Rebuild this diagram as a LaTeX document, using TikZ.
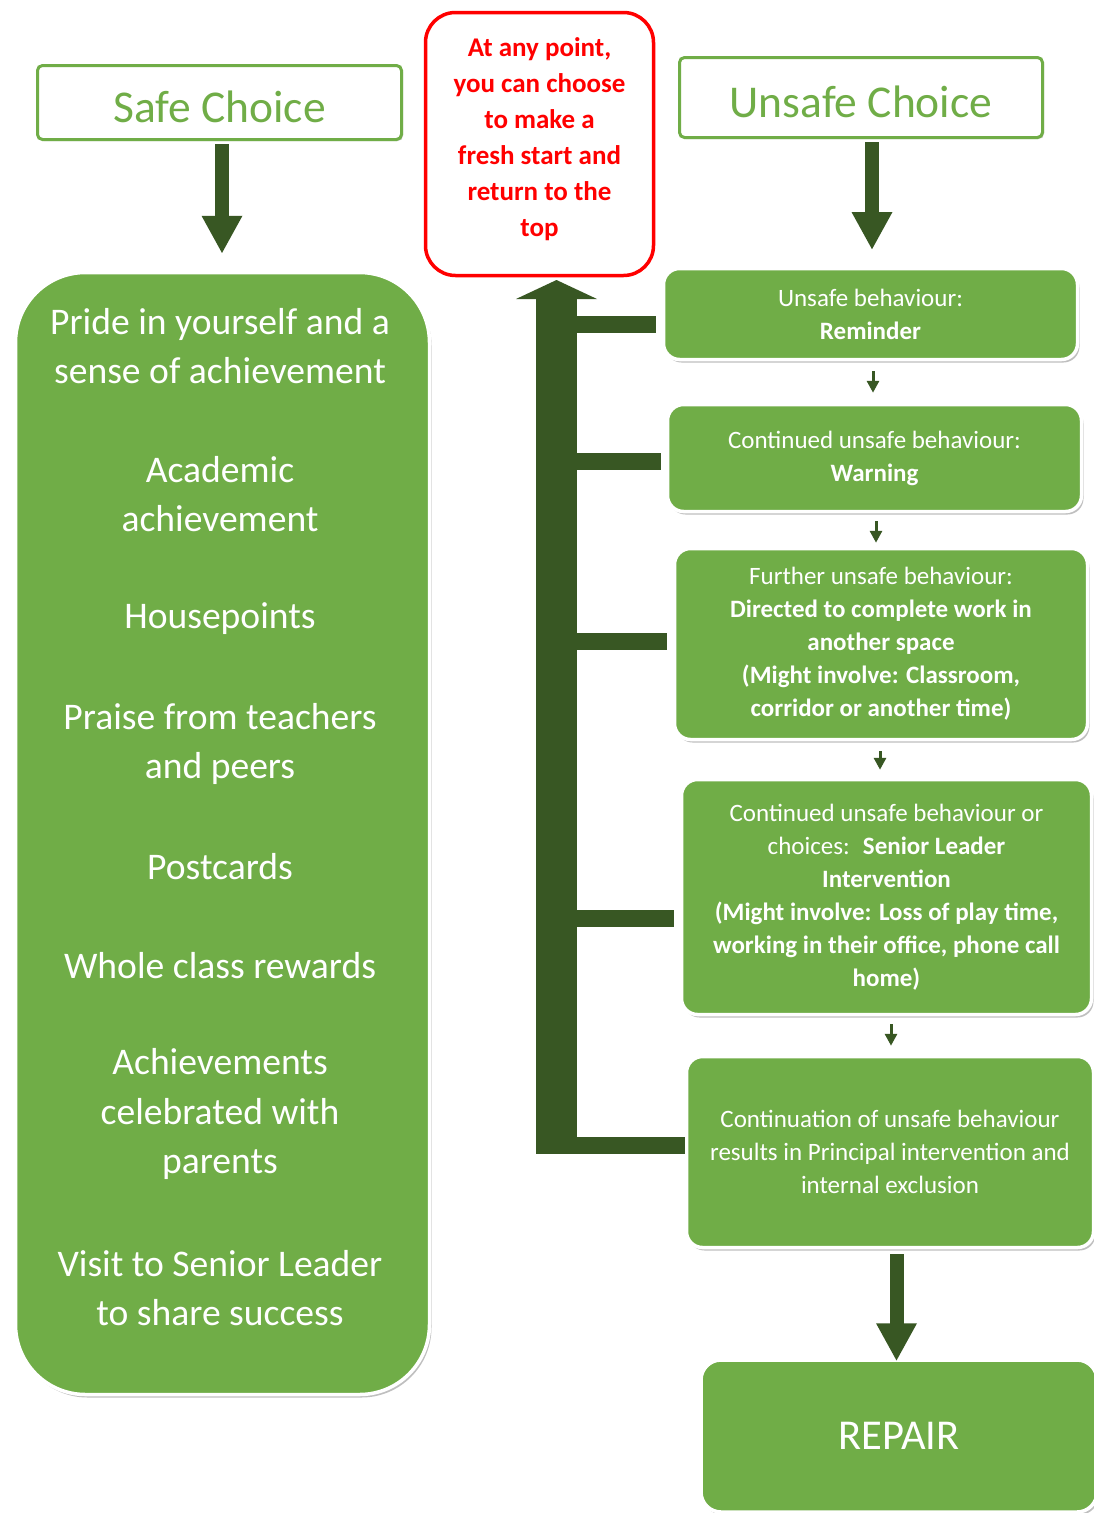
\documentclass[tikz,border=0pt]{standalone}
\usepackage{fontspec}
\setmainfont{Carlito}
\usetikzlibrary{arrows.meta,shadows}
\definecolor{lgreen}{RGB}{112,173,71}
\definecolor{dgreen}{RGB}{56,87,35}
\definecolor{redline}{RGB}{255,0,0}
\tikzset{
  choice/.style={draw=lgreen, line width=3pt, fill=white, rounded corners=5pt, text=lgreen,
    font=\fontsize{45.5}{54}\selectfont, inner sep=0pt,
    drop shadow={shadow xshift=1.5pt, shadow yshift=-1.5pt, fill=black!35, opacity=.5}},
  gbox/.style={fill=lgreen, draw=white, line width=3.5pt, text=white, align=center, inner sep=0pt,
    drop shadow={shadow xshift=2pt, shadow yshift=-3pt, fill=black!45, opacity=.55}},
  ubox/.style={gbox, rounded corners=16pt, font=\fontsize{25}{33}\selectfont},
  saferow/.style={text=white, align=center, inner sep=0pt, font=\fontsize{37.6}{49.6}\selectfont},
  redbox/.style={draw=redline, line width=3.5pt, fill=white, rounded corners=30pt, inner sep=0pt},
  redtext/.style={text=redline, align=center, inner sep=0pt, font=\bfseries\fontsize{27}{36}\selectfont},
  bigarrow/.style={draw=dgreen, line width=14pt, -{Triangle[width=38pt,length=38pt]}, shorten >=0pt},
  smallarrow/.style={draw=dgreen, line width=3pt, -{Triangle[width=12pt,length=12pt]}},
  branch/.style={draw=dgreen, line width=17pt, line cap=butt},
  spine/.style={draw=dgreen, line width=41pt, line cap=butt},
}
\begin{document}
\begin{tikzpicture}[x=1pt,y=-1pt]
\useasboundingbox[fill=white] (0,0) rectangle (1094,1513);

% choice headers
\node[choice, minimum width=364pt, minimum height=74pt] (safe) at (219.5,102.5) {\raisebox{-4pt}[\height][\depth]{Safe Choice}};
\node[choice, minimum width=363pt, minimum height=80pt] (unsafe) at (861,97.5) {\raisebox{-4pt}[\height][\depth]{Unsafe Choice}};

% fresh start box
\node[redbox, minimum width=228pt, minimum height=263pt] (freshbox) at (539.5,144) {};
\node[redtext] (fresh) at (539.5,139) {At any point,\\you can choose\\to make a\\fresh start and\\return to the\\top};

% safe rewards box
\node[gbox, rounded corners=70pt, minimum width=414pt, minimum height=1122pt] (rewards) at (222.5,833.5) {};
\node[saferow] (s1) at (220,346) {Pride in yourself and a\\sense of achievement};
\node[saferow] (s2) at (220,494) {Academic\\achievement};
\node[saferow] (s3) at (220,619) {Housepoints};
\node[saferow] (s4) at (220,744) {Praise from teachers\\and peers};
\node[saferow] (s5) at (220,867) {Postcards};
\node[saferow] (s6) at (220,966) {Whole class rewards};
\node[saferow] (s7) at (220,1114) {Achievements\\celebrated with\\parents};
\node[saferow] (s8) at (220,1288) {Visit to Senior Leader\\to share success};

% unsafe steps
\node[ubox, minimum width=414pt, minimum height=91pt] (u1) at (870.5,314)
  {Unsafe behaviour:\\\textbf{Reminder}};
\node[ubox, minimum width=414pt, minimum height=107pt] (u2) at (874.5,458)
  {Continued unsafe behaviour:\\\textbf{Warning}};
\node[ubox, minimum width=413pt, minimum height=191pt] (u3) at (881,644)
  {Further unsafe behaviour:\\\textbf{Directed to complete work in}\\\textbf{another space}\\\textbf{(Might involve: Classroom,}\\\textbf{corridor or another time)}};
\node[ubox, minimum width=410pt, minimum height=235pt] (u4) at (886.5,897)
  {Continued unsafe behaviour or\\choices:~ \textbf{Senior Leader}\\\textbf{Intervention}\\\textbf{(Might involve: Loss of play time,}\\\textbf{working in their office, phone call}\\\textbf{home)}};
\node[ubox, minimum width=407pt, minimum height=191pt] (u5) at (890,1152)
  {Continuation of unsafe behaviour\\results in Principal intervention and\\internal exclusion};
\node[gbox, rounded corners=20pt, minimum width=396pt, minimum height=152pt,
  font=\fontsize{42.5}{48}\selectfont] (repair) at (899,1436) {REPAIR};

% main arrows
\draw[bigarrow] ([xshift=2.5pt,yshift=-3pt]safe.south) -- ([yshift=17pt]rewards.north -| 222,0);
\draw[bigarrow] ([xshift=11pt,yshift=-3pt]unsafe.south) -- ([yshift=-10pt]unsafe.south -| 872,0) -- (872,250);
\draw[bigarrow] ([yshift=-5pt]u5.south -| 896.5,0) -- ([yshift=-3pt]repair.north -| 896.5,0);

% small arrows between steps
\draw[smallarrow] ([yshift=-10pt]u1.south -| 873,0) -- ([yshift=10pt]u2.north -| 873,0);
\draw[smallarrow] ([yshift=-8pt]u2.south -| 876,0) -- ([yshift=4pt]u3.north -| 876,0);
\draw[smallarrow] ([yshift=-10pt]u3.south -| 880,0) -- ([yshift=8pt]u4.north -| 880,0);
\draw[smallarrow] ([yshift=-8pt]u4.south -| 891,0) -- ([yshift=9pt]u5.north -| 891,0);

% return-to-top spine
\coordinate (spinebot) at (556.5,1153);
\coordinate (spinetop) at (556.5,298);
\draw[spine] (spinebot) -- (spinetop);
\fill[dgreen] (516,299) -- (597,299) -- (556.5,280) -- cycle;
\draw[branch] ([xshift=-6pt,yshift=-10pt]u1.west) -- ([yshift=-10pt]u1.west -| 577,0);
\draw[branch] ([xshift=-5pt,yshift=-3.5pt]u2.west) -- ([yshift=-3.5pt]u2.west -| 577,0);
\draw[branch] ([xshift=-6pt,yshift=3pt]u3.west) -- ([yshift=3pt]u3.west -| 577,0);
\draw[branch] ([xshift=-6pt,yshift=-21.5pt]u4.west) -- ([yshift=-21.5pt]u4.west -| 577,0);
\draw[branch] ([yshift=7pt]u5.west) -- ([yshift=7pt]u5.west -| 536,0);
\end{tikzpicture}
\end{document}
